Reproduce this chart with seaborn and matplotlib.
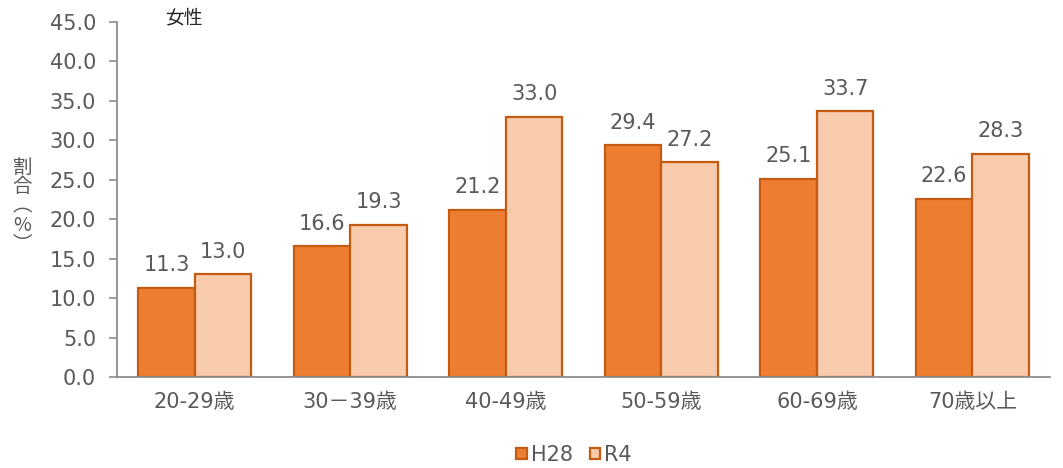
import numpy as np
import pandas as pd
import matplotlib
matplotlib.use("Agg")
import matplotlib.pyplot as plt
import seaborn as sns
from matplotlib.patches import Patch

categories = ["20-29歳", "30－39歳", "40-49歳", "50-59歳", "60-69歳", "70歳以上"]
series_names = ["H28", "R4"]
h28_values = [11.3, 16.6, 21.2, 29.4, 25.1, 22.6]
r4_values = [13.0, 19.3, 33.0, 27.2, 33.7, 28.3]
y_ticks = [0, 5, 10, 15, 20, 25, 30, 35, 40, 45]

df = pd.DataFrame({
    "age": categories * 2,
    "value": h28_values + r4_values,
    "year": [series_names[0]] * len(categories) + [series_names[1]] * len(categories),
})

sns.set_theme(style="white")
plt.rcParams["font.family"] = ["DejaVu Sans", "Noto Sans CJK JP"]
cjk = ["Noto Sans CJK JP", "DejaVu Sans"]

text_color = "#595959"
axis_color = "#8c8c8c"
fill_colors = {"H28": "#ED7D31", "R4": "#F8CBAD"}
edge_color = "#C55A11"

fig = plt.figure(figsize=(10.63, 4.68), dpi=100)
ax = fig.add_axes([0.110, 0.1944, 0.878, 0.7586])

sns.barplot(data=df, x="age", y="value", hue="year", order=categories,
            hue_order=series_names, palette=fill_colors, width=0.727,
            edgecolor=edge_color, linewidth=1.6, legend=False, ax=ax, saturation=1)

for cont in ax.containers:
    ax.bar_label(cont, fmt="%.1f", padding=9, fontsize=15, color=text_color)

ax.set_ylim(0, 45)
ax.set_xlim(-0.5, len(categories) - 0.5)
ax.set_yticks(y_ticks)
ax.set_yticklabels([f"{v:.1f}" for v in y_ticks], fontsize=15, color=text_color)

ax.set_xticks(np.arange(-0.5, len(categories), 1.0))
ax.set_xticklabels([""] * (len(categories) + 1))
ax.set_xticks(np.arange(len(categories)), minor=True)
ax.set_xticklabels(categories, minor=True, fontsize=15, color=text_color)
ax.tick_params(axis="x", which="major", length=6, width=1.2, color=axis_color, direction="out")
ax.tick_params(axis="x", which="minor", length=0, pad=11)
ax.tick_params(axis="y", length=6, width=1.2, color=axis_color, direction="out", pad=9, left=True)

for s in ["top", "right"]:
    ax.spines[s].set_visible(False)
for s in ["left", "bottom"]:
    ax.spines[s].set_color(axis_color)
    ax.spines[s].set_linewidth(1.3)

ax.set_xlabel("")
ax.set_ylabel("")

fig.text(0.021, 0.56, "割\n合\n︵\n%\n︶", fontsize=14, color=text_color,
         ha="center", va="center", linespacing=0.9, family=cjk)
fig.text(0.155, 0.962, "女性", fontsize=13.5, color="#262626", ha="left", va="center",
         family=cjk)

handles = [Patch(facecolor=fill_colors[n], edgecolor=edge_color, linewidth=1.6, label=n)
           for n in series_names]
fig.legend(handles=handles, loc="center", bbox_to_anchor=(0.540, 0.028), ncol=2,
           frameon=False, fontsize=15, handlelength=0.5, handleheight=0.5,
           handletextpad=0.2, columnspacing=0.8, labelcolor=text_color)

fig.savefig("out.png", dpi=100)
